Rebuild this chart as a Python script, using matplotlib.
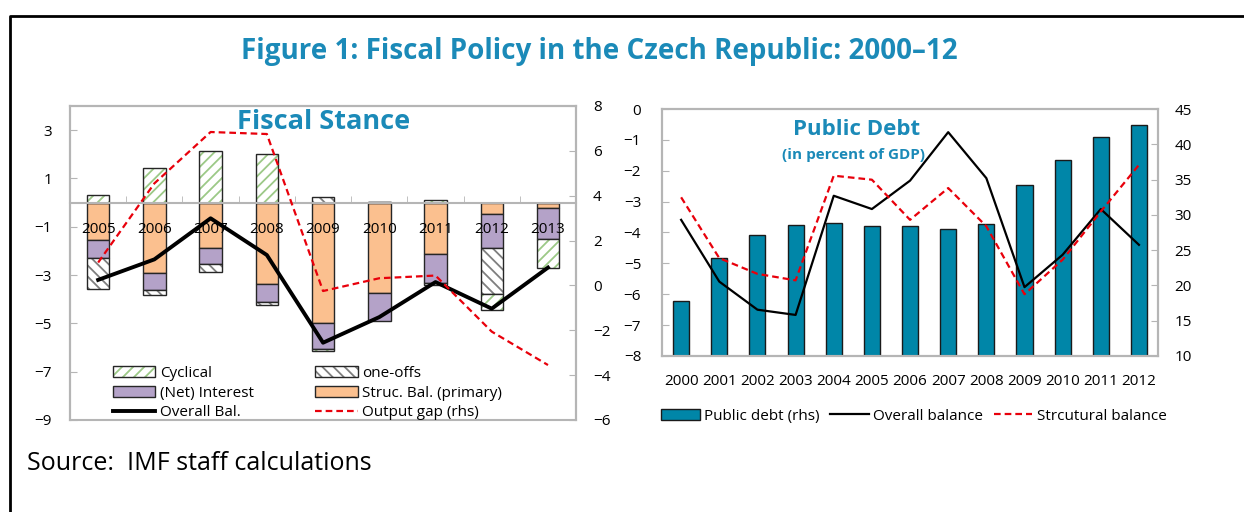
import matplotlib
matplotlib.use('Agg')
import matplotlib.pyplot as plt
import numpy as np
from matplotlib.patches import Patch
from matplotlib.lines import Line2D

plt.rcParams['font.family'] = ['Open Sans', 'DejaVu Sans']
plt.rcParams['hatch.linewidth'] = 1.3

# left panel: fiscal stance (percent of GDP), output gap on rhs
years_fs = ['2005', '2006', '2007', '2008', '2009', '2010', '2011', '2012', '2013']
struc_bal = [-1.55, -2.90, -1.90, -3.36, -5.00, -3.73, -2.13, -0.47, -0.24]
net_interest = [-0.75, -0.72, -0.66, -0.76, -1.05, -1.19, -1.20, -1.41, -1.25]
one_offs = [-1.27, -0.21, -0.30, -0.10, 0.24, 0.03, -0.07, -1.89, 0.00]
cyclical = [0.33, 1.44, 2.14, 2.00, -0.10, 0.00, 0.10, -0.69, -1.20]
overall_bal = [-3.20, -2.35, -0.65, -2.17, -5.80, -4.74, -3.29, -4.39, -2.69]
output_gap = [1.02, 4.55, 6.84, 6.75, -0.25, 0.32, 0.44, -2.06, -3.55]

# right panel: public debt (rhs) and balances (lhs)
years_pd = ['2000', '2001', '2002', '2003', '2004', '2005', '2006',
            '2007', '2008', '2009', '2010', '2011', '2012']
public_debt = [17.8, 23.9, 27.2, 28.5, 28.9, 28.4, 28.4, 28.0, 28.7, 34.2, 37.8, 41.0, 42.7]
overall_balance = [-3.59, -5.59, -6.50, -6.67, -2.81, -3.24, -2.32, -0.75, -2.24,
                   -5.77, -4.72, -3.24, -4.40]
struct_balance = [-2.86, -4.83, -5.34, -5.55, -2.16, -2.29, -3.59, -2.56, -3.80,
                  -6.00, -4.88, -3.32, -1.81]

BLUE = '#1b8ab8'
GREY = '#b5b5b5'
DARK = '#262626'
RED = '#e8000b'
ORANGE = '#fbc08f'
PURPLE = '#b4a2c8'
GREEN = '#9cc987'
HATCHGREY = '#7f7f7f'
TEAL = '#0086a8'
FS = 11

fig = plt.figure(figsize=(12.44, 5.12), dpi=100)

# ---------------- Fiscal stance ----------------
ax1 = fig.add_axes([0.0563, 0.1797, 0.4068, 0.6133])
ax1r = ax1.twinx()
x1 = np.arange(len(years_fs))
w1 = 0.4

pos = np.zeros(len(x1))
neg = np.zeros(len(x1))
series = [(struc_bal, ORANGE, None, None),
          (net_interest, PURPLE, None, None),
          (one_offs, 'white', '\\\\\\', HATCHGREY),
          (cyclical, 'white', '///', GREEN)]
for vals, fc, hatch, hc in series:
    v = np.array(vals)
    bottom = np.where(v >= 0, pos, neg)
    if hatch:
        ax1.bar(x1, v, w1, bottom=bottom, facecolor='white', edgecolor=hc, hatch=hatch, lw=0)
        ax1.bar(x1, v, w1, bottom=bottom, facecolor='none', edgecolor=DARK, lw=1)
    else:
        ax1.bar(x1, v, w1, bottom=bottom, facecolor=fc, edgecolor=DARK, lw=1)
    pos += np.where(v > 0, v, 0)
    neg += np.where(v < 0, v, 0)

ax1.plot(x1, overall_bal, color='black', lw=2.8, zorder=5)
ax1r.plot(x1, output_gap, color=RED, lw=1.6, ls=(0, (3, 1.8)))

ax1.set_xlim(-0.5, len(x1) - 0.5)
ax1.set_ylim(-9, 4)
ax1.set_yticks(np.arange(-9, 4, 2))
ax1r.set_ylim(-6, 8)
ax1r.set_yticks(np.arange(-6, 9, 2))

ax1.spines['bottom'].set_position(('data', 0))
for a in (ax1, ax1r):
    for s in a.spines.values():
        s.set_color(GREY)
        s.set_linewidth(1.5)
ax1.set_xticks(x1, years_fs)
ax1.set_xticks(np.arange(-0.5, len(x1), 1), minor=True)
ax1.tick_params(axis='x', which='major', length=0, pad=14, labelsize=FS)
ax1.tick_params(axis='x', which='minor', direction='in', length=5, color=GREY)
ax1.tick_params(axis='y', direction='in', length=5, color=GREY, pad=13, labelsize=FS)
ax1r.tick_params(axis='y', direction='in', length=5, color=GREY, pad=12, labelsize=FS)

ax1r.text(0.5, 0.949, 'Fiscal Stance', transform=ax1.transAxes, ha='center', va='center',
          fontsize=19.5, fontweight='bold', color=BLUE)

outline = Patch(facecolor='none', edgecolor=DARK, lw=1)
h_cyc = (Patch(facecolor='white', edgecolor=GREEN, hatch='///', lw=0), outline)
h_one = (Patch(facecolor='white', edgecolor=HATCHGREY, hatch='\\\\\\', lw=0), outline)
h_int = Patch(facecolor=PURPLE, edgecolor=DARK, lw=1)
h_str = Patch(facecolor=ORANGE, edgecolor=DARK, lw=1)
h_ovr = Line2D([], [], color='black', lw=2.8)
h_gap = Line2D([], [], color=RED, lw=1.6, ls=(0, (3, 1.8)))
ax1r.legend([h_cyc, h_int, h_ovr, h_one, h_str, h_gap],
            ['Cyclical', '(Net) Interest', 'Overall Bal.', 'one-offs',
             'Struc. Bal. (primary)', 'Output gap (rhs)'],
            ncol=2, loc='lower left', bbox_to_anchor=(0.057, -0.045), frameon=False,
            fontsize=FS, handlelength=2.8, handleheight=0.75, columnspacing=4.0,
            labelspacing=0.31, handletextpad=0.3)

# ---------------- Public debt ----------------
ax2 = fig.add_axes([0.5322, 0.3047, 0.3987, 0.4824])
ax2l = ax2.twinx()
ax2.yaxis.tick_right()
ax2l.yaxis.tick_left()
x2 = np.arange(len(years_pd))

ax2.bar(x2, public_debt, 0.42, color=TEAL, edgecolor='#1a1a1a', lw=1)
ax2l.plot(x2, overall_balance, color='black', lw=1.6)
ax2l.plot(x2, struct_balance, color=RED, lw=1.6, ls=(0, (3, 1.8)))

ax2.set_xlim(-0.5, len(x2) - 0.5)
ax2.set_ylim(10, 45)
ax2.set_yticks(np.arange(10, 46, 5))
ax2l.set_ylim(-8, 0)
ax2l.set_yticks(np.arange(-8, 1, 1))
ax2.set_xticks(x2, years_pd)
ax2.tick_params(axis='x', length=0, pad=13, labelsize=FS)
ax2.tick_params(axis='y', direction='in', length=5, color=GREY, pad=12, labelsize=FS)
ax2l.tick_params(axis='y', direction='in', length=5, color=GREY, pad=15, labelsize=FS)
for a in (ax2, ax2l):
    for s in a.spines.values():
        s.set_color(GREY)
        s.set_linewidth(1.5)

ax2l.text(0.393, 0.915, 'Public Debt', transform=ax2.transAxes, ha='center', va='center',
          fontsize=16, fontweight='bold', color=BLUE)
ax2l.text(0.386, 0.814, '(in percent of GDP)', transform=ax2.transAxes, ha='center',
          va='center', fontsize=11, fontweight='bold', color=BLUE)

ax2l.legend([Patch(facecolor=TEAL, edgecolor='#1a1a1a', lw=1),
             Line2D([], [], color='black', lw=1.6),
             Line2D([], [], color=RED, lw=1.6, ls=(0, (3, 1.8)))],
            ['Public debt (rhs)', 'Overall balance', 'Strcutural balance'],
            ncol=3, loc='center', bbox_to_anchor=(0.508, -0.243), frameon=False,
            fontsize=FS, handlelength=2.5, handleheight=0.75, columnspacing=0.7,
            handletextpad=0.3)

# ---------------- frame and texts ----------------
fig.add_artist(Line2D([10 / 1244, 10 / 1244, 1], [0, 1 - 16 / 512, 1 - 16 / 512],
                      transform=fig.transFigure, color='black', lw=2))
fig.text(0.482, 0.9, 'Figure 1: Fiscal Policy in the Czech Republic: 2000\u201312',
         ha='center', va='center', fontsize=20, fontweight='bold', color=BLUE)
fig.text(0.0217, 0.0957, 'Source:  IMF staff calculations', ha='left', va='center',
         fontsize=18)

fig.savefig('out.png', dpi=100)
